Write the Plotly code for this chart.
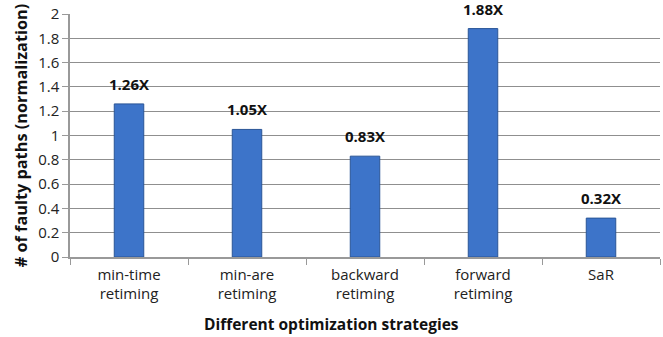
import plotly.graph_objects as go

categories = ["min-time<br>retiming", "min-are<br>retiming", "backward<br>retiming", "forward<br>retiming", "SaR"]
values = [1.26, 1.05, 0.83, 1.88, 0.32]
labels = ["1.26X", "1.05X", "0.83X", "1.88X", "0.32X"]
yticks = [0, 0.2, 0.4, 0.6, 0.8, 1, 1.2, 1.4, 1.6, 1.8, 2]
yticktext = ["0", "0.2", "0.4", "0.6", "0.8", "1", "1.2", "1.4", "1.6", "1.8", "2"]

font = "Open Sans, Lato, sans-serif"

fig = go.Figure(go.Bar(
    x=categories, y=values,
    marker=dict(color="#3D74C9", line=dict(color="#2A5597", width=1)),
    width=0.25,
))

for c, v, t in zip(categories, values, labels):
    fig.add_annotation(
        x=c, y=v, text="<b>%s</b>" % t, showarrow=False,
        yanchor="bottom", yshift=8,
        font=dict(family=font, size=15, color="#111111"),
    )

fig.add_annotation(
    xref="paper", yref="paper", x=(331 - 70) / 590, y=-0.0, yshift=-67,
    yanchor="middle", xanchor="center", showarrow=False,
    text="<b>Different optimization strategies</b>",
    font=dict(family=font, size=15.5, color="#111111"),
)

fig.update_layout(
    width=663, height=337,
    margin=dict(l=70, r=3, t=14, b=80),
    paper_bgcolor="white", plot_bgcolor="white",
    showlegend=False,
    font=dict(family=font, size=15, color="#222222"),
    xaxis=dict(
        showline=True, linecolor="#999999", linewidth=1.5,
        ticks="outside", tickson="boundaries", ticklen=6, tickcolor="#999999",
        tickfont=dict(size=15), ticklabelstandoff=3,
    ),
    yaxis=dict(
        title=dict(text="<b># of faulty paths (normalization)</b>", font=dict(size=16.3, color="#111111"), standoff=6),
        range=[0, 2], tickvals=yticks, ticktext=yticktext,
        showline=True, linecolor="#999999", linewidth=1.5,
        ticks="outside", ticklen=6, tickcolor="#999999",
        showgrid=True, gridcolor="#8f8f8f", gridwidth=1.2,
        zeroline=False, tickfont=dict(size=15),
    ),
)

fig.write_html("out.html")
